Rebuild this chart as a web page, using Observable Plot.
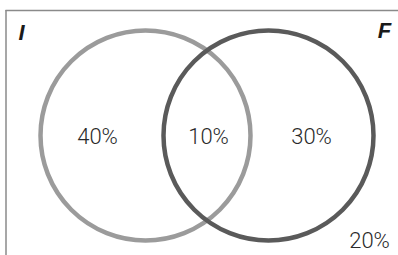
<!DOCTYPE html>
<html>
<head>
<meta charset="utf-8">
<script src="https://cdn.jsdelivr.net/npm/d3@7"></script>
<script src="https://cdn.jsdelivr.net/npm/@observablehq/plot@0.6"></script>
<style>
  html, body { margin: 0; padding: 0; background: #fff; }
  #chart { width: 398px; height: 255px; }
</style>
</head>
<body>
<div id="chart"></div>
<script>
// Data
const sets = ["I", "F"];
const regions = ["I only", "I and F", "F only", "neither"];
const shares = [40, 10, 30, 20];

// Layout (pixel coordinates of the diagram)
const W = 398, H = 255;
const circleX = [145, 268], circleY = 135, R = 105;
const circleColors = ["#9b9b9b", "#5a5a5a"];
const labelPos = [[97, 136], [208, 136], [311, 136], [369, 240]];
const setLabelPos = [[21, 32], [384, 30]];

const circles = sets.map((s, i) => ({set: s, x: circleX[i], y: circleY, color: circleColors[i]}));
const regionData = regions.map((r, i) => ({region: r, value: shares[i], x: labelPos[i][0], y: labelPos[i][1]}));
const setLabels = sets.map((s, i) => ({set: s, x: setLabelPos[i][0], y: setLabelPos[i][1]}));

const chart = Plot.plot({
  width: W, height: H,
  margin: 0,
  x: {domain: [0, W], range: [0, W], axis: null},
  y: {domain: [0, H], range: [0, H], axis: null},
  style: {background: "#fff"},
  marks: [
    Plot.ruleY([10], {x1: 5.5, x2: W, stroke: "#8a8a8a", strokeWidth: 1.5}),
    Plot.ruleX([5.5], {y1: 10, y2: H, stroke: "#8a8a8a", strokeWidth: 1.5}),
    Plot.dot(circles, {x: "x", y: "y", r: R, stroke: "color", strokeWidth: 4.5, fill: "none"}),
    Plot.text(regionData, {x: "x", y: "y", text: d => d.value + "%", fontSize: 22, fontWeight: 300, fill: "#2a2a2a", fontFamily: "Roboto"}),
    Plot.text(setLabels, {x: "x", y: "y", text: "set", fontSize: 22, fontWeight: "bold", fontStyle: "italic", fill: "#1a1a1a", fontFamily: "Liberation Sans"})
  ]
});
document.getElementById("chart").appendChild(chart);
</script>
</body>
</html>
